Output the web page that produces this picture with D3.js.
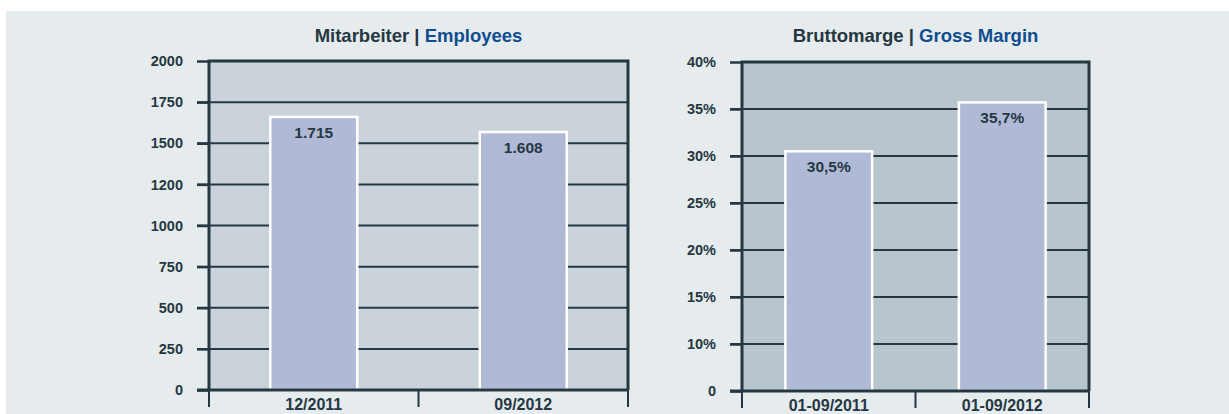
<!DOCTYPE html>
<html>
<head>
<meta charset="utf-8">
<script src="https://cdn.jsdelivr.net/npm/d3@7"></script>
<style>
  body { margin: 0; background: #ffffff; }
  svg { display: block; font-family: "Liberation Sans", Arial, sans-serif; }
</style>
</head>
<body>
<svg id="chart" width="1229" height="414"></svg>
<script>
// Employees panel
const empCategories = ["12/2011", "09/2012"];
const empValues = [1660, 1568];          // bar heights as drawn against the axis
const empLabels = ["1.715", "1.608"];    // printed values
const empTicks = [0, 250, 500, 750, 1000, 1250, 1500, 1750, 2000];
const empTickLabels = ["0", "250", "500", "750", "1000", "1200", "1500", "1750", "2000"];

// Gross margin panel
const gmCategories = ["01-09/2011", "01-09/2012"];
const gmValues = [30.5, 35.7];
const gmLabels = ["30,5%", "35,7%"];
const gmTicks = [5, 10, 15, 20, 25, 30, 35, 40];
const gmTickLabels = ["0", "10%", "15%", "20%", "25%", "30%", "35%", "40%"];

const DARK = "#253842";
const BLUE = "#0f4d8e";

const svg = d3.select("#chart");

svg.append("rect")
    .attr("x", 6).attr("y", 11)
    .attr("width", 1229 - 6).attr("height", 414 - 11)
    .attr("fill", "#e6ebee");

function drawPanel(cfg) {
    let x = d3.scaleBand().domain(cfg.categories)
        .range([cfg.left, cfg.right])
        .paddingInner(cfg.pad).paddingOuter(cfg.pad / 2);
    let y = d3.scaleLinear().domain(cfg.domain).range([cfg.bottom, cfg.top]);

    let g = svg.append("g");

    // plot background
    g.append("rect")
        .attr("x", cfg.left).attr("y", cfg.top)
        .attr("width", cfg.right - cfg.left).attr("height", cfg.bottom - cfg.top)
        .attr("fill", cfg.fill);

    // gridlines, starting where the outside tick begins
    g.selectAll(".grid").data(cfg.ticks.slice(1, -1)).enter().append("line")
        .attr("class", "grid")
        .attr("x1", cfg.left - 12).attr("x2", cfg.right)
        .attr("y1", d => y(d)).attr("y2", d => y(d))
        .attr("stroke", DARK).attr("stroke-width", 2);

    // y axis labels and outside ticks
    let yAxis = d3.axisLeft(y)
        .tickValues(cfg.ticks)
        .tickFormat((d, i) => cfg.tickLabels[i])
        .tickSize(12).tickPadding(14);
    let ya = g.append("g").attr("transform", `translate(${cfg.left},0)`).call(yAxis);
    ya.select(".domain").remove();
    ya.selectAll("line").attr("stroke", DARK).attr("stroke-width", 2.5);
    ya.selectAll("text")
        .attr("fill", DARK)
        .style("font-size", "14.5px")
        .style("font-weight", "bold");

    // bars
    g.selectAll(".bar").data(cfg.values).enter().append("rect")
        .attr("class", "bar")
        .attr("x", (d, i) => x(cfg.categories[i]))
        .attr("width", x.bandwidth())
        .attr("y", d => y(d))
        .attr("height", d => cfg.bottom - y(d))
        .attr("fill", "#b0bad6")
        .attr("stroke", "#ffffff").attr("stroke-width", 2.5);

    // value labels inside the bars
    g.selectAll(".val").data(cfg.labels).enter().append("text")
        .attr("class", "val")
        .attr("x", (d, i) => x(cfg.categories[i]) + x.bandwidth() / 2)
        .attr("y", (d, i) => y(cfg.values[i]) + 21)
        .attr("text-anchor", "middle")
        .attr("fill", DARK)
        .style("font-size", "15.5px")
        .style("font-weight", "bold")
        .text(d => d);

    // frame: top, right, left, bottom
    g.append("path")
        .attr("d", `M${cfg.left},${cfg.bottom}V${cfg.top}H${cfg.right}V${cfg.bottom}`)
        .attr("fill", "none").attr("stroke", DARK).attr("stroke-width", 3);
    g.append("line")
        .attr("x1", cfg.left - 12).attr("x2", cfg.right)
        .attr("y1", cfg.bottom).attr("y2", cfg.bottom)
        .attr("stroke", DARK).attr("stroke-width", 3);

    // x ticks between categories (downward)
    let edges = [cfg.left, (cfg.left + cfg.right) / 2, cfg.right];
    g.selectAll(".xtick").data(edges).enter().append("line")
        .attr("class", "xtick")
        .attr("x1", d => d).attr("x2", d => d)
        .attr("y1", cfg.bottom).attr("y2", cfg.bottom + 17)
        .attr("stroke", DARK).attr("stroke-width", 2);

    // category labels
    g.selectAll(".cat").data(cfg.categories).enter().append("text")
        .attr("class", "cat")
        .attr("x", d => x(d) + x.bandwidth() / 2)
        .attr("y", cfg.bottom + 20)
        .attr("text-anchor", "middle")
        .attr("fill", DARK)
        .style("font-size", "16px")
        .style("font-weight", "bold")
        .text(d => d);

    // title
    let t = g.append("text")
        .attr("x", (cfg.left + cfg.right) / 2)
        .attr("y", 42)
        .attr("text-anchor", "middle")
        .style("font-size", "18.5px")
        .style("font-weight", "bold");
    t.append("tspan").attr("fill", DARK).text(cfg.title[0] + " | ");
    t.append("tspan").attr("fill", BLUE).text(cfg.title[1]);
}

drawPanel({
    categories: empCategories, values: empValues, labels: empLabels,
    ticks: empTicks, tickLabels: empTickLabels, domain: [0, 2000],
    left: 209, right: 628, top: 61, bottom: 390, pad: 0.585,
    fill: "#cbd3da", title: ["Mitarbeiter", "Employees"]
});

drawPanel({
    categories: gmCategories, values: gmValues, labels: gmLabels,
    ticks: gmTicks, tickLabels: gmTickLabels, domain: [5, 40],
    left: 742, right: 1089, top: 62, bottom: 391, pad: 0.5,
    fill: "#b8c5cc", title: ["Bruttomarge", "Gross Margin"]
});
</script>
</body>
</html>
